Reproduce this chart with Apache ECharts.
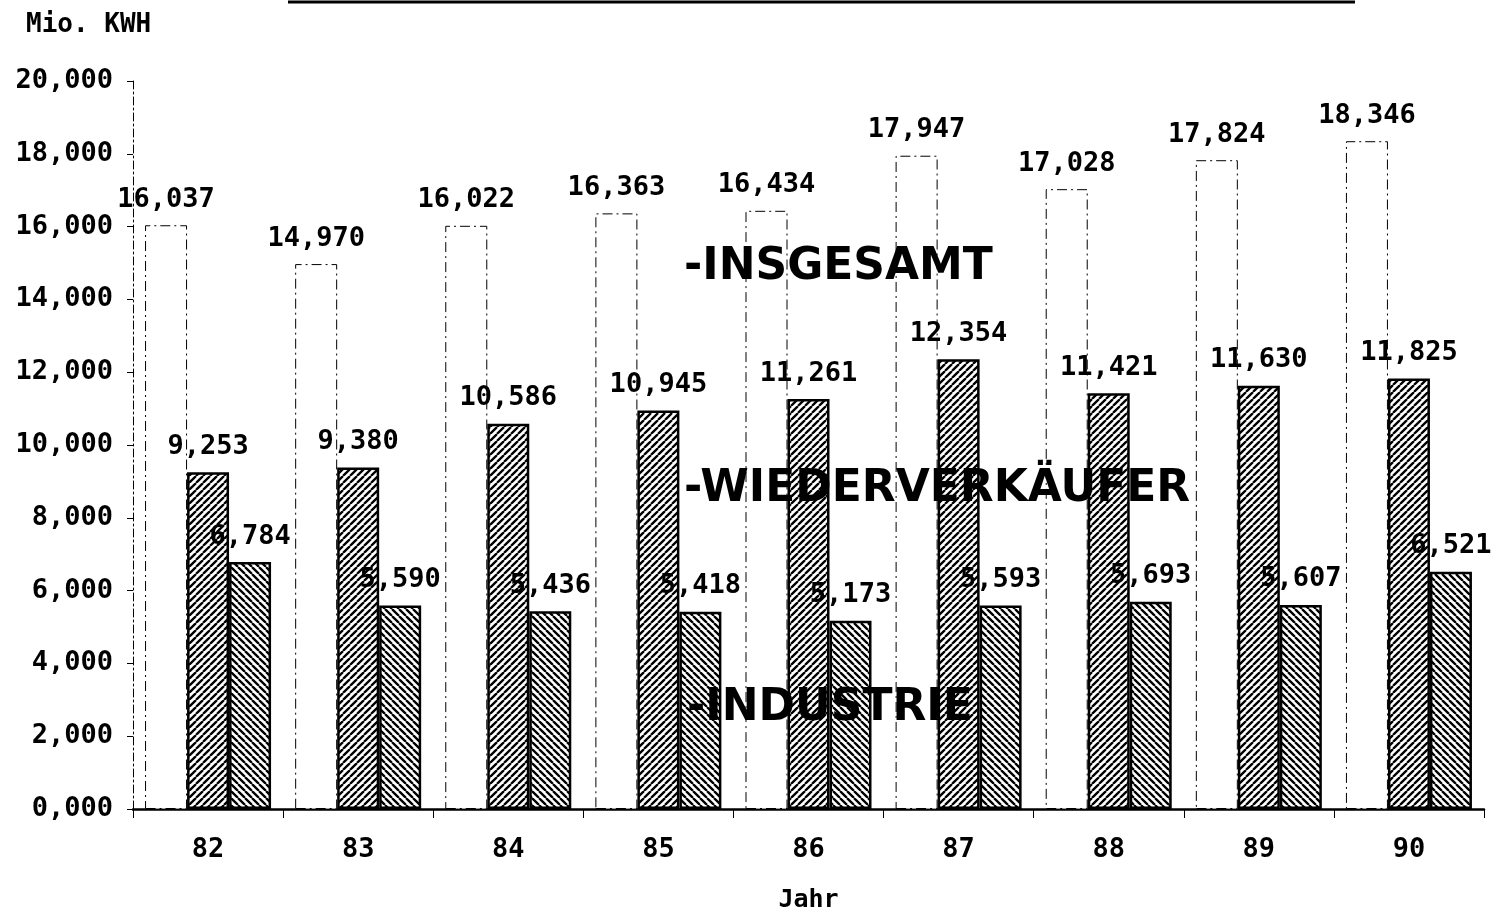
<!DOCTYPE html>
<html>
<head>
<meta charset="utf-8">
<title>Stromabgabe</title>
<script src="https://cdn.jsdelivr.net/npm/echarts@6/dist/echarts.min.js"></script>
<style>
  html, body { margin: 0; padding: 0; background: #fff; }
  #chart { width: 1511px; height: 910px; }
</style>
</head>
<body>
<div id="chart"></div>
<script>
// Jahre (Kategorien)
const years = ['82', '83', '84', '85', '86', '87', '88', '89', '90'];
// Stromabgabe in Mio. KWH
const insgesamt = [16037, 14970, 16022, 16363, 16434, 17947, 17028, 17824, 18346];
const wiederverkaeufer = [9253, 9380, 10586, 10945, 11261, 12354, 11421, 11630, 11825];
const industrie = [6784, 5590, 5436, 5418, 5173, 5593, 5693, 5607, 6521];
// Legendentexte
const seriesNames = ['INSGESAMT', 'WIEDERVERKÄUFER', 'INDUSTRIE'];

const MONO = '"DejaVu Sans Mono", "Liberation Mono", monospace';

// 16037 -> "16,037"
function fmt(v) {
  const t = Math.floor(v / 1000);
  const r = String(Math.round(v % 1000)).padStart(3, '0');
  return t + ',' + r;
}

// Schraffur als Kachelmuster
function hatch(dir) {
  const s = 7;
  const c = document.createElement('canvas');
  c.width = s; c.height = s;
  const ctx = c.getContext('2d');
  ctx.fillStyle = '#fff';
  ctx.fillRect(0, 0, s, s);
  ctx.strokeStyle = '#000';
  ctx.lineWidth = 2.3;
  ctx.beginPath();
  for (const o of [-s, 0, s]) {
    if (dir === '/') { ctx.moveTo(o, s); ctx.lineTo(o + s, 0); }
    else { ctx.moveTo(o, 0); ctx.lineTo(o + s, s); }
  }
  ctx.stroke();
  return { image: c, repeat: 'repeat' };
}

const labelStyle = {
  show: true,
  position: 'top',
  distance: 12,
  color: '#000',
  fontFamily: MONO,
  fontWeight: 'bold',
  fontSize: 27,
  formatter: p => fmt(p.value)
};

const chart = echarts.init(document.getElementById('chart'), null, { renderer: 'canvas' });

chart.setOption({
  backgroundColor: '#fff',
  animation: false,
  grid: { left: 133, right: 27, top: 81, bottom: 101, containLabel: false, outerBoundsMode: 'none' },
  xAxis: {
    type: 'category',
    data: years,
    name: 'Jahr',
    nameLocation: 'middle',
    nameGap: 79,
    nameTextStyle: { color: '#000', fontFamily: MONO, fontWeight: 'bold', fontSize: 25 },
    axisLine: { show: true, lineStyle: { color: '#000', width: 2.5 } },
    axisTick: { show: true, length: 9, lineStyle: { color: '#000', width: 1 } },
    axisLabel: { color: '#000', fontFamily: MONO, fontWeight: 'bold', fontSize: 27, margin: 27 },
    splitLine: { show: false }
  },
  yAxis: {
    type: 'value',
    min: 0,
    max: 20000,
    interval: 2000,
    axisLine: { show: true, lineStyle: { color: '#000', width: 1, type: [8, 3, 2, 3] } },
    axisTick: { show: true, length: 6, lineStyle: { color: '#000', width: 1 } },
    axisLabel: {
      color: '#000', fontFamily: MONO, fontWeight: 'bold', fontSize: 27, margin: 20,
      formatter: v => fmt(v)
    },
    splitLine: { show: false }
  },
  series: [
    {
      name: seriesNames[0],
      type: 'bar',
      data: insgesamt,
      barWidth: 42,
      barGap: '0%',
      itemStyle: { color: '#fff', borderColor: '#000', borderWidth: 1, borderType: [10, 4, 2, 4] },
      label: labelStyle
    },
    {
      name: seriesNames[1],
      type: 'bar',
      data: wiederverkaeufer,
      barWidth: 42,
      barGap: '0%',
      itemStyle: { color: hatch('/'), borderColor: '#000', borderWidth: 2.5 },
      label: labelStyle
    },
    {
      name: seriesNames[2],
      type: 'bar',
      data: industrie,
      barWidth: 42,
      barGap: '0%',
      itemStyle: { color: hatch('\\'), borderColor: '#000', borderWidth: 2.5 },
      label: labelStyle
    }
  ],
  graphic: [
    // Titelunterstrich
    { type: 'line', z: 100, shape: { x1: 288, y1: 2, x2: 1355, y2: 2 }, style: { stroke: '#000', lineWidth: 3 } },
    // Einheit der Werteachse
    { type: 'text', z: 100, left: 26, top: 12,
      style: { text: 'Mio. KWH', fill: '#000', font: 'bold 26px ' + MONO } },
    // Legende als Beschriftung im Diagramm
    { type: 'text', z: 100, left: 684, top: 246,
      style: { text: '-' + seriesNames[0], fill: '#000', font: 'bold 44px "DejaVu Sans", sans-serif' } },
    { type: 'text', z: 100, left: 684, top: 468,
      style: { text: '-' + seriesNames[1], fill: '#000', font: 'bold 44px "DejaVu Sans", sans-serif' } },
    { type: 'text', z: 100, left: 687, top: 687,
      style: { text: '-' + seriesNames[2], fill: '#000', font: 'bold 44px "DejaVu Sans", sans-serif' } }
  ]
});
</script>
</body>
</html>
